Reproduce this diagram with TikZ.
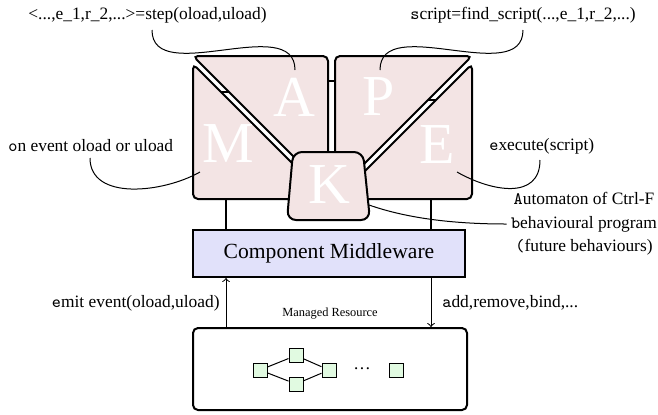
\documentclass[tikz,border=0pt]{standalone}
\usepackage{fontspec}
\setmainfont{Liberation Serif}
\definecolor{boxpink}{RGB}{243,228,228}
\definecolor{mwblue}{RGB}{225,225,250}
\definecolor{sqgreen}{RGB}{225,250,225}
\begin{document}
\begin{tikzpicture}[x=0.5pt,y=-0.5pt,
  mapebox/.style={draw=black,line width=1pt,fill=boxpink,rounded corners=2.5pt},
  kbox/.style={draw=black,line width=1pt,fill=boxpink,rounded corners=4.5pt},
  letter/.style={text=white,font=\fontsize{29}{29}\selectfont,inner sep=0pt},
  lbl/.style={font=\fontsize{8.7}{11.5}\selectfont,inner sep=0pt},
  conn/.style={line width=1.2pt},
  callout/.style={line width=0.5pt},
  arr/.style={line width=0.5pt,->},
  sq/.style={draw=black,line width=0.5pt,fill=sqgreen,minimum size=7pt,inner sep=0pt}]
\useasboundingbox (0,0) rectangle (658,414);
% thick connectors behind the boxes
\coordinate (ma1) at (215,92);  \coordinate (ma2) at (250,92);
\coordinate (ap1) at (320,81);  \coordinate (ap2) at (345,81);
\coordinate (pe1) at (415,100); \coordinate (pe2) at (450,100);
\draw[conn] (ma1) -- (ma2);
\draw[conn] (ap1) -- (ap2);
\draw[conn] (pe1) -- (pe2);
% MAPE boxes
\path[mapebox] (193,64) -- (193,199) -- (328,199) -- cycle;
\path[mapebox] (193,56) -- (328,56) -- (328,191) -- cycle;
\path[mapebox] (335,56) -- (472,56) -- (335,193) -- cycle;
\path[mapebox] (472,64) -- (472,199) -- (337,199) -- cycle;
\path[kbox] (293,152) -- (363,152) -- (370,220) -- (287,220) -- cycle;
\node[letter] (M) at (228,144) {M};
\node[letter] (A) at (294,97) {A};
\node[letter] (P) at (379,97) {P};
\node[letter] (E) at (437,145) {E};
\node[letter] (K) at (329,185) {K};
% middleware and resource
\node[draw=black,line width=1pt,fill=mwblue,minimum width=136pt,minimum height=23.5pt,
  inner sep=0pt,font=\fontsize{10.8}{12}\selectfont] (mw) at (329,253.5) {Component Middleware};
\node[draw=black,line width=1pt,rounded corners=2.5pt,minimum width=137pt,minimum height=41pt,
  inner sep=0pt] (res) at (330,369) {};
\coordinate (xl) at (226,0);
\coordinate (xr) at (431,0);
\coordinate (Mb) at (226,199);
\coordinate (Eb) at (431,199);
\draw[conn] (Mb) -- (Mb |- mw.north);
\draw[conn] (Eb) -- (Eb |- mw.north);
\draw[arr] (xl |- res.north) -- (xl |- mw.south);
\draw[arr] (xr |- mw.south) -- (xr |- res.north);
% managed resource content
\node[sq] (s1) at (260,370) {};
\node[sq] (s2) at (296,355.5) {};
\node[sq] (s3) at (296,384) {};
\node[sq] (s4) at (329,370) {};
\node[inner sep=0pt,font=\fontsize{8.7}{10}\selectfont] (dots) at (362,369) {\ldots};
\node[sq] (s5) at (396,370) {};
\draw[line width=0.5pt] (s1) -- (s2) (s1) -- (s3) (s2) -- (s4) (s3) -- (s4);
\node[inner sep=0pt,font=\fontsize{6.2}{7}\selectfont] (reslbl) at (330,314) {Managed Resource};
% labels
\node[lbl,anchor=west] (steplbl) at (28,15) {<...,e\_1,r\_2,...>=step(oload,uload)};
\node[lbl,anchor=west] (scriptlbl) at (410,15) {\texttt{s}cript=find\_script(...,e\_1,r\_2,...)};
\node[lbl,anchor=west] (eventlbl) at (8,146) {\texttt{o}n event oload or uload};
\node[lbl,anchor=west] (execlbl) at (489,146) {\texttt{e}xecute(script)};
\node[lbl,align=center] (autolbl) at (584,224) {\texttt{A}utomaton of Ctrl-F\\[0.3pt]\texttt{b}ehavioural program\\[0.3pt]\texttt{(}future behaviours)};
\node[lbl,anchor=east] (emitlbl) at (220,303) {\texttt{e}mit event(oload,uload)};
\node[lbl,anchor=west] (addlbl) at (442,303) {\texttt{a}dd,remove,bind,...};
% callouts
\coordinate (c1a) at (152,30);  \coordinate (c1b) at (295,70);
\coordinate (c2a) at (523,30);  \coordinate (c2b) at (380,70);
\coordinate (c3a) at (90,158);  \coordinate (c3b) at (200,172);
\coordinate (c4a) at (540,160); \coordinate (c4b) at (457,172);
\coordinate (c5a) at (369,205);
\draw[callout] (c1a) .. controls +(0,58) and +(0,-58) .. (c1b);
\draw[callout] (c2a) .. controls +(0,58) and +(0,-58) .. (c2b);
\draw[callout] (c3a) .. controls +(0,43) and +(-37,21) .. (c3b);
\draw[callout] (c4a) .. controls +(0,40) and +(35,20) .. (c4b);
\draw[callout] (c5a) .. controls +(40,14) and +(-50,0) .. ([xshift=-2pt]autolbl.west);
\end{tikzpicture}
\end{document}
